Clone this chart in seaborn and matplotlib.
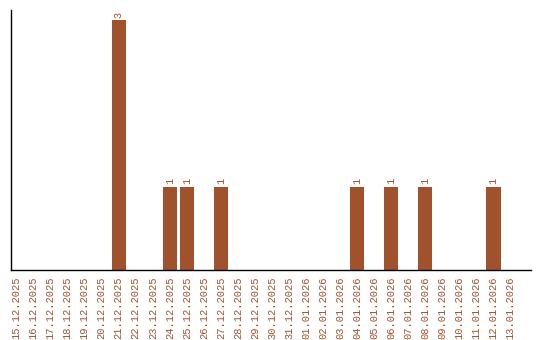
import matplotlib
matplotlib.use("Agg")
import matplotlib.pyplot as plt
import seaborn as sns
import pandas as pd

dates = ["15.12.2025", "16.12.2025", "17.12.2025", "18.12.2025", "19.12.2025",
         "20.12.2025", "21.12.2025", "22.12.2025", "23.12.2025", "24.12.2025",
         "25.12.2025", "26.12.2025", "27.12.2025", "28.12.2025", "29.12.2025",
         "30.12.2025", "31.12.2025", "01.01.2026", "02.01.2026", "03.01.2026",
         "04.01.2026", "05.01.2026", "06.01.2026", "07.01.2026", "08.01.2026",
         "09.01.2026", "10.01.2026", "11.01.2026", "12.01.2026", "13.01.2026"]
counts = [0, 0, 0, 0, 0, 0, 3, 0, 0, 1,
          1, 0, 1, 0, 0, 0, 0, 0, 0, 0,
          1, 0, 1, 0, 1, 0, 0, 0, 1, 0]

color = "#A0522D"
df = pd.DataFrame({"date": dates, "count": counts})

sns.set_style("white")
plt.rcParams["font.family"] = ["Liberation Mono", "DejaVu Sans Mono"]

fig = plt.figure(figsize=(5.4, 3.4), dpi=100)
ax = fig.add_axes([11 / 540, 70 / 340, 520 / 540, 260 / 340])
sns.barplot(data=df, x="date", y="count", color=color, saturation=1,
            width=0.83, linewidth=0, ax=ax)

for i, v in enumerate(counts):
    if v > 0:
        ax.text(i, v + 0.03, str(v), rotation=90, ha="center", va="bottom",
                fontsize=7.5, color=color)

ax.set_xlim(-0.32, 30.2)
ax.set_ylim(0, 3.12)
ax.set_xlabel("")
ax.set_ylabel("")
ax.set_yticks([])
ax.tick_params(axis="x", length=0, pad=5, labelsize=7.5, labelcolor=color,
               rotation=90)
for s in ["top", "right"]:
    ax.spines[s].set_visible(False)
for s in ["left", "bottom"]:
    ax.spines[s].set_color("black")
    ax.spines[s].set_linewidth(1)

fig.savefig("out.png", dpi=100)
